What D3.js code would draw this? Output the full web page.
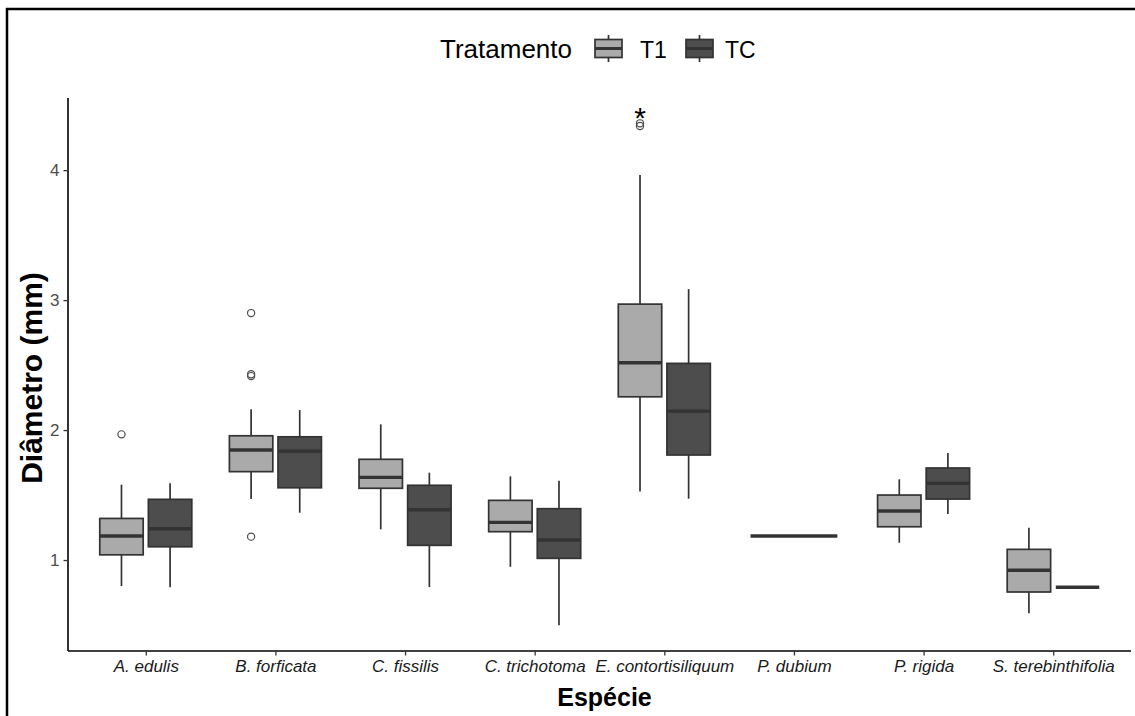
<!DOCTYPE html>
<html>
<head>
<meta charset="utf-8">
<script src="https://cdn.jsdelivr.net/npm/d3@7/dist/d3.min.js"></script>
<style>
  html, body { margin: 0; padding: 0; background: #fff; }
  svg { display: block; font-family: "Liberation Sans", Arial, sans-serif; }
</style>
</head>
<body>
<svg id="chart" width="1135" height="716"></svg>
<script>
// Species on the x axis
const species = ["A. edulis", "B. forficata", "C. fissilis", "C. trichotoma",
                 "E. contortisiliquum", "P. dubium", "P. rigida", "S. terebinthifolia"];
const treatments = ["T1", "TC"];
const yTicks = [1, 2, 3, 4];

// Box statistics per species: [lower whisker, Q1, median, Q3, upper whisker]; null = no data
const statsT1 = [
  [0.80, 1.04, 1.185, 1.32, 1.58],
  [1.47, 1.68, 1.846, 1.956, 2.16],
  [1.236, 1.552, 1.636, 1.775, 2.044],
  [0.948, 1.218, 1.29, 1.459, 1.644],
  [1.528, 2.256, 2.518, 2.969, 3.962],
  [1.185, 1.185, 1.185, 1.185, 1.185],
  [1.133, 1.256, 1.377, 1.50, 1.621],
  [0.59, 0.754, 0.921, 1.082, 1.248]
];
const statsTC = [
  [0.79, 1.102, 1.241, 1.467, 1.59],
  [1.364, 1.556, 1.838, 1.948, 2.154],
  [0.792, 1.113, 1.387, 1.575, 1.672],
  [0.498, 1.013, 1.154, 1.395, 1.61],
  [1.472, 1.808, 2.146, 2.513, 3.085],
  null,
  [1.354, 1.469, 1.59, 1.708, 1.823],
  [0.79, 0.79, 0.79, 0.79, 0.79]
];
// Outlying observations
const outliersT1 = [[1.967], [2.90, 2.43, 2.415, 1.18], [], [], [4.36, 4.34], [], [], []];
const outliersTC = [[], [], [], [], [], [], [], []];
// Significance mark above E. contortisiliquum T1
const markSpecies = "E. contortisiliquum";
const markText = "*";
const markValue = 4.45;

const fills = { T1: "#AAAAAA", TC: "#4D4D4D" };
const lineCol = "#333333";

const svg = d3.select("#chart");
const W = 1135, H = 716;
const panel = { left: 68, right: 1131, top: 98, bottom: 651 };

// outer frame
svg.append("rect").attr("x", 7).attr("y", 9).attr("width", W + 20).attr("height", H + 20)
  .attr("fill", "none").attr("stroke", "#000").attr("stroke-width", 2.5);

const x = d3.scalePoint().domain(species).range([panel.left, panel.right]).padding(0.6);
const y = d3.scaleLinear().domain([0.3, 4.555]).range([panel.bottom, panel.top]);
const step = x.step();
const dodge = 0.75 * step;            // spacing between treatment groups
const boxW = 0.67 * step / 2;          // width of one dodged box

const series = { T1: { stats: statsT1, out: outliersT1 }, TC: { stats: statsTC, out: outliersTC } };

const g = svg.append("g");

species.forEach((sp, i) => {
  const present = treatments.filter(t => series[t].stats[i] !== null);
  present.forEach(t => {
    const s = series[t].stats[i];
    let cx, w;
    if (present.length === 1) {
      cx = x(sp); w = boxW * 2;
    } else {
      const j = treatments.indexOf(t);
      cx = x(sp) + (j - 0.5) * dodge / 2;
      w = boxW;
    }
    const [lo, q1, med, q3, hi] = s;
    // whiskers
    g.append("line").attr("x1", cx).attr("x2", cx).attr("y1", y(hi)).attr("y2", y(q3))
      .attr("stroke", lineCol).attr("stroke-width", 1.7);
    g.append("line").attr("x1", cx).attr("x2", cx).attr("y1", y(q1)).attr("y2", y(lo))
      .attr("stroke", lineCol).attr("stroke-width", 1.7);
    // box
    g.append("rect").attr("x", cx - w / 2).attr("y", y(q3))
      .attr("width", w).attr("height", Math.max(0, y(q1) - y(q3)))
      .attr("fill", fills[t]).attr("stroke", lineCol).attr("stroke-width", 1.7);
    // median
    g.append("line").attr("x1", cx - w / 2).attr("x2", cx + w / 2).attr("y1", y(med)).attr("y2", y(med))
      .attr("stroke", lineCol).attr("stroke-width", 3.4);
    // outliers
    series[t].out[i].forEach(v => {
      g.append("circle").attr("cx", cx).attr("cy", y(v)).attr("r", 3.6)
        .attr("fill", "none").attr("stroke", "#4d4d4d").attr("stroke-width", 1.2);
    });
  });
});

// significance mark
{
  const cx = x(markSpecies) - dodge / 4;
  svg.append("text").attr("x", cx).attr("y", y(markValue)).attr("dy", 16)
    .attr("text-anchor", "middle").attr("font-size", 30).attr("fill", "#000").text(markText);
}

// axes
const yAxis = d3.axisLeft(y).tickValues(yTicks).tickFormat(d3.format("d")).tickSize(4.5).tickSizeOuter(0).tickPadding(4);
const ya = svg.append("g").attr("transform", `translate(${panel.left},0)`).call(yAxis);
ya.select(".domain").attr("d", `M0,${panel.top}V${panel.bottom}`).attr("stroke", "#000").attr("stroke-width", 1.6);
ya.selectAll(".tick line").attr("stroke", lineCol).attr("stroke-width", 1.3);
ya.selectAll(".tick text").attr("font-size", 17).attr("fill", "#4d4d4d")
  .attr("font-family", "Liberation Sans, Arial, sans-serif");

const xAxis = d3.axisBottom(x).tickSize(4.5).tickSizeOuter(0).tickPadding(4);
const xa = svg.append("g").attr("transform", `translate(0,${panel.bottom})`).call(xAxis);
xa.select(".domain").attr("d", `M${panel.left},0H${panel.right}`).attr("stroke", "#000").attr("stroke-width", 1.6);
xa.selectAll(".tick line").attr("stroke", lineCol).attr("stroke-width", 1.3);
xa.selectAll(".tick text").attr("font-size", 17).attr("fill", "#1a1a1a").attr("font-style", "italic")
  .attr("font-family", "Liberation Sans, Arial, sans-serif");

// axis titles
svg.append("text").attr("x", (panel.left + panel.right) / 2 + 5).attr("y", 706)
  .attr("text-anchor", "middle").attr("font-size", 25).attr("font-weight", "bold").attr("fill", "#000")
  .text("Espécie");
svg.append("text").attr("transform", `translate(42,378) rotate(-90)`)
  .attr("text-anchor", "middle").attr("font-size", 30).attr("font-weight", "bold").attr("fill", "#000")
  .text("Diâmetro (mm)");

// legend
const lg = svg.append("g");
lg.append("text").attr("x", 440).attr("y", 57.5).attr("font-size", 26).attr("fill", "#000").text("Tratamento");
const keys = [{ t: "T1", x0: 595, tx: 640 }, { t: "TC", x0: 686, tx: 725 }];
keys.forEach(k => {
  const kx = k.x0 + 13.5;
  lg.append("line").attr("x1", kx).attr("x2", kx).attr("y1", 35).attr("y2", 62)
    .attr("stroke", lineCol).attr("stroke-width", 1.7);
  lg.append("rect").attr("x", k.x0).attr("y", 39.5).attr("width", 27).attr("height", 18)
    .attr("fill", fills[k.t]).attr("stroke", lineCol).attr("stroke-width", 1.7);
  lg.append("line").attr("x1", k.x0).attr("x2", k.x0 + 27).attr("y1", 48.5).attr("y2", 48.5)
    .attr("stroke", lineCol).attr("stroke-width", 3);
  lg.append("text").attr("x", k.tx).attr("y", 57.5).attr("font-size", 23).attr("fill", "#000").text(k.t);
});
</script>
</body>
</html>
